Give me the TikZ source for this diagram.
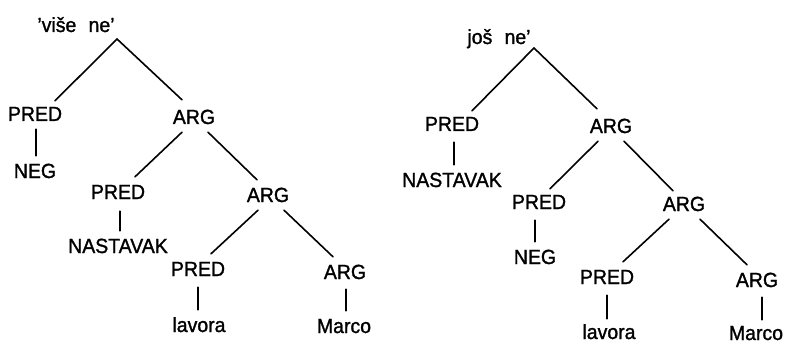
\documentclass[tikz,border=0pt]{standalone}
\usepackage{fontspec}
\setmainfont{Liberation Sans}
\newfontfamily\treefont[FakeBold=1.3,FakeStretch=0.95]{Liberation Sans}
\begin{document}
\begin{tikzpicture}[x=1pt,y=-1pt,
  lbl/.style={font=\treefont\fontsize{20.5}{23}\selectfont, text height=14pt, text depth=0pt, inner xsep=1pt, inner ysep=8pt},
  leaf/.style={lbl, inner ysep=1pt},
  edge/.style={line width=1.6pt, line cap=round}]
\useasboundingbox (0,0) rectangle (788,345);
% ---------- left tree ----------
\node[lbl] (rootA) at (76,25) {’više\,\, ne’};
\coordinate (apexA) at (117,39);
\node[lbl] (predA1) at (35,114) {PRED};
\node[lbl] (argA1) at (194,117) {ARG};
\node[leaf] (negA) at (35,171) {NEG};
\node[lbl] (predA2) at (118,192) {PRED};
\node[lbl] (argA2) at (268,195) {ARG};
\node[leaf] (nastA) at (118,246) {NASTAVAK};
\node[lbl] (predA3) at (198,269) {PRED};
\node[lbl] (argA3) at (345,272) {ARG};
\node[leaf] (lavA) at (199,325) {lavora};
\node[leaf] (marA) at (344,326) {Marco};
\draw[edge] (apexA) -- ([xshift=20,yshift=-2]predA1.north);
\draw[edge] (apexA) -- ([xshift=-12,yshift=2]argA1.north);
\draw[edge] ([xshift=1]predA1.south) -- ([xshift=1,yshift=7]predA1.south |- negA.north);
\draw[edge] ([xshift=2,yshift=-4]predA2.south) -- ([xshift=2,yshift=7]predA2.south |- nastA.north);
\draw[edge] ([xshift=-12]argA1.south) -- ([xshift=17]predA2.north);
\draw[edge] ([xshift=14]argA1.south) -- ([xshift=-11]argA2.north);
\draw[edge] ([xshift=-10]argA2.south) -- ([xshift=13]predA3.north);
\draw[edge] ([xshift=16]argA2.south) -- ([xshift=-12]argA3.north);
\draw[edge] ([yshift=-3]predA3.south) -- ([yshift=7]predA3.south |- lavA.north);
\draw[edge] ([xshift=1,yshift=-2]argA3.south) -- ([xshift=1,yshift=7]argA3.south |- marA.north);
% ---------- right tree ----------
\node[lbl] (rootB) at (499,37) {još\,\, ne’};
\coordinate (apexB) at (534,48);
\node[lbl] (predB1) at (452,124) {PRED};
\node[lbl] (argB1) at (611,126) {ARG};
\node[leaf] (nastB) at (452,180) {NASTAVAK};
\node[lbl] (predB2) at (539,202) {PRED};
\node[lbl] (argB2) at (684,204) {ARG};
\node[leaf] (negB) at (535,257) {NEG};
\node[lbl] (predB3) at (607,277) {PRED};
\node[lbl] (argB3) at (757,280) {ARG};
\node[leaf] (lavB) at (609,332) {lavora};
\node[leaf] (marB) at (756,333) {Marco};
\draw[edge] (apexB) -- ([xshift=20,yshift=-2]predB1.north);
\draw[edge] (apexB) -- ([xshift=-14,yshift=2]argB1.north);
\draw[edge] ([xshift=2,yshift=-3]predB1.south) -- ([xshift=2,yshift=7]predB1.south |- nastB.north);
\draw[edge] ([xshift=-13]argB1.south) -- ([xshift=11,yshift=-2]predB2.north);
\draw[edge] ([xshift=13]argB1.south) -- ([xshift=-11,yshift=-2]argB2.north);
\draw[edge] ([xshift=-4,yshift=-3]predB2.south) -- ([xshift=-4,yshift=7]predB2.south |- negB.north);
\draw[edge] ([xshift=-15]argB2.south) -- ([xshift=16]predB3.north);
\draw[edge] ([xshift=16]argB2.south) -- ([xshift=-10]argB3.north);
\draw[edge] ([yshift=-3]predB3.south) -- ([yshift=5]predB3.south |- lavB.north);
\draw[edge] ([xshift=5,yshift=-2]argB3.south) -- ([xshift=5,yshift=5]argB3.south |- marB.north);
\end{tikzpicture}
\end{document}
